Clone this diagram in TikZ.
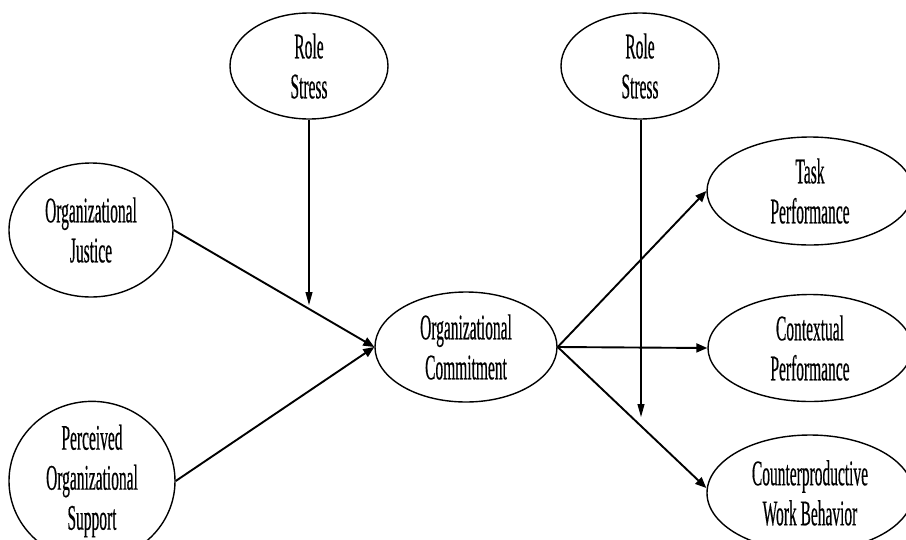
\documentclass[tikz,border=0pt]{standalone}
\usepackage{fontspec}
\setmainfont[FakeStretch=0.43,FakeBold=0.4]{Liberation Serif}
\usetikzlibrary{shapes.geometric,arrows.meta}
\begin{document}
\begin{tikzpicture}[x=1pt,y=-1pt,
  var/.style={ellipse,draw,line width=1.4pt,inner sep=0pt,align=center,
    font=\fontsize{36}{40}\selectfont},
  mainarrow/.style={line width=1.9pt,-{Triangle[length=11pt,width=9pt]}},
  modarrow/.style={line width=1.1pt,-{Triangle[length=13pt,width=7pt]}}]
\useasboundingbox (0,0) rectangle (906,539);
\begin{scope}
\clip (0,0) rectangle (906,539);
\node[var,minimum width=158pt,minimum height=106pt] (rs1) at (309,66) {Role\\Stress};
\node[var,minimum width=158pt,minimum height=106pt] (rs2) at (640,66) {Role\\Stress};
\node[var,minimum width=164pt,minimum height=134pt] (oj) at (91,230) {Organizational\\Justice};
\node[var,minimum width=166pt,minimum height=126pt] (pos) at (92,481) {Perceived\\Organizational\\Support};
\node[var,minimum width=182pt,minimum height=110pt] (oc) at (466,347) {Organizational\\Commitment};
\node[var,minimum width=206pt,minimum height=108pt] (tp) at (810,191) {Task\\Performance};
\node[var,minimum width=204pt,minimum height=107pt] (cp) at (810,348) {Contextual\\Performance};
\node[var,minimum width=206pt,minimum height=116pt] (cwb) at (810,493) {Counterproductive\\Work Behavior};
\coordinate (m1) at (309,305);
\coordinate (m2) at (641,417);
\draw[mainarrow] (oj.east) -- (oc.west);
\draw[mainarrow] (pos.east) -- (oc.west);
\draw[mainarrow] (oc.east) -- (tp.west);
\draw[mainarrow] (oc.east) -- (cp.west);
\draw[mainarrow] (oc.east) -- ([yshift=5pt]cwb.west);
\draw[modarrow] (rs1.south) -- (m1);
\draw[modarrow] (rs2.south -| m2) -- (m2);
\end{scope}
\end{tikzpicture}
\end{document}
